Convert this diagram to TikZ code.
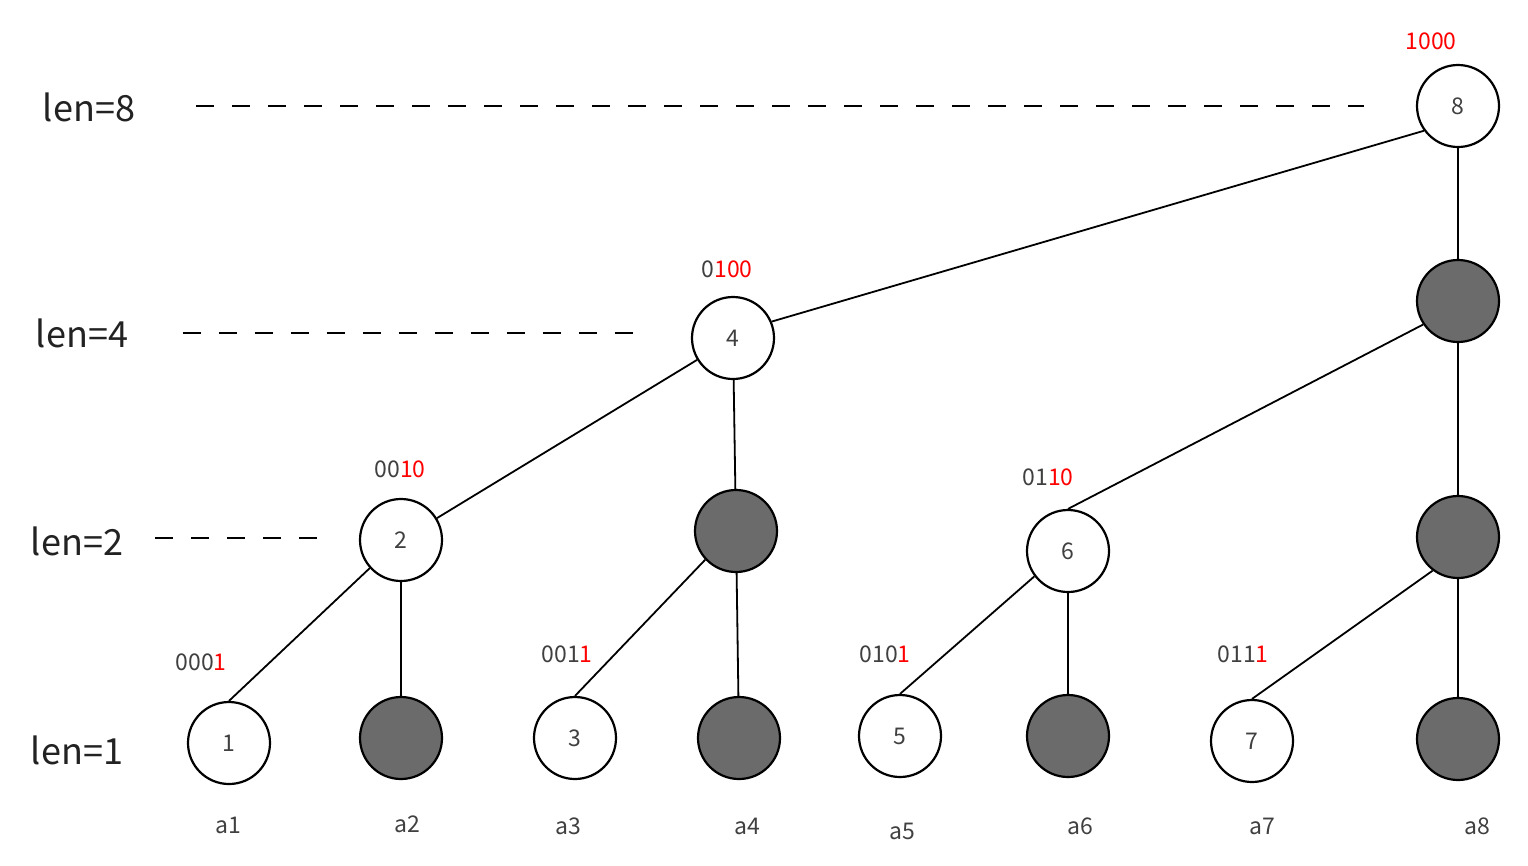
\documentclass[tikz,border=0pt]{standalone}
\usepackage{fontspec}
\setmainfont{Noto Sans CJK SC}
\definecolor{nodegray}{HTML}{6B6B6B}
\definecolor{txtgray}{HTML}{404040}
\definecolor{lenblack}{HTML}{222222}
\definecolor{bitred}{HTML}{FF0000}
\newcommand{\rd}[1]{\textcolor{bitred}{#1}}
\tikzset{
  wnode/.style={circle, draw=black, line width=2.2pt, fill=white, minimum size=82pt, inner sep=0pt, text=txtgray, font=\fontsize{23}{23}\selectfont},
  gnode/.style={wnode, fill=nodegray},
  edge/.style={line width=1.8pt, black},
  lenlabel/.style={text=lenblack, font=\fontsize{36}{36}\selectfont, inner sep=0pt},
  bits/.style={text=txtgray, font=\fontsize{23}{23}\selectfont, inner sep=0pt},
  alabel/.style={text=txtgray, font=\fontsize{23}{23}\selectfont, inner sep=0pt},
  dashline/.style={line width=1.7pt, dash pattern=on 18pt off 18pt}
}
\begin{document}
\begin{tikzpicture}[x=1pt,y=-1pt]
\useasboundingbox (0,0) rectangle (1528,865);
% nodes
\node[wnode] (n8) at (1458,106) {8};
\node[gnode] (g8a) at (1458,301) {};
\node[wnode] (n4) at (733,338) {4};
\node[wnode] (n2) at (401,540) {2};
\node[gnode] (g4) at (736,531) {};
\node[wnode] (n6) at (1068,551) {6};
\node[gnode] (g8b) at (1458,537) {};
\node[wnode] (n1) at (229,743) {1};
\node[gnode] (g2) at (401,738) {};
\node[wnode] (n3) at (575,738) {3};
\node[gnode] (g4b) at (739,738) {};
\node[wnode] (n5) at (900,736) {5};
\node[gnode] (g6) at (1068,736) {};
\node[wnode] (n7) at (1252,741) {7};
\node[gnode] (g8c) at (1458,739) {};
% edges
\draw[edge] (n8.216) -- (n4.23);
\draw[edge] (n8) -- (g8a);
\draw[edge] (g8a.214) -- (n6.north);
\draw[edge] (g8a) -- (g8b);
\draw[edge] (n4) -- (n2);
\draw[edge] (n4) -- (g4);
\draw[edge] (n2.222) -- (n1.north);
\draw[edge] (n2) -- (g2);
\draw[edge] (g4.223) -- (n3.north);
\draw[edge] (g4) -- (g4b);
\draw[edge] (n6.217) -- (n5.north);
\draw[edge] (n6) -- (g6);
\draw[edge] (g8b.233) -- (n7.north);
\draw[edge] (g8b) -- (g8c);
% len labels
\node[lenlabel] (l8) at (89,107) {len=8};
\node[lenlabel] (l4) at (82,333) {len=4};
\node[lenlabel] (l2) at (77,541) {len=2};
\node[lenlabel] (l1) at (77,750) {len=1};
% dashed lines
\coordinate (d8s) at (196,106); \coordinate (d8e) at (1364,106);
\coordinate (d4s) at (183,333); \coordinate (d4e) at (640,333);
\coordinate (d2s) at (155,538); \coordinate (d2e) at (320,538);
\draw[dashline] (d8s) -- (d8e);
\draw[dashline] (d4s) -- (d4e);
\draw[dashline] (d2s) -- (d2e);
% bit labels
\node[bits] (b8) at (1431,41) {\rd{1000}};
\node[bits] (b4) at (727,269) {0\rd{100}};
\node[bits] (b2) at (400,469) {00\rd{10}};
\node[bits] (b6) at (1048,477) {01\rd{10}};
\node[bits] (b1) at (201,662) {000\rd{1}};
\node[bits] (b3) at (567,654) {001\rd{1}};
\node[bits] (b5) at (885,654) {010\rd{1}};
\node[bits] (b7) at (1243,654) {011\rd{1}};
% bottom labels
\node[alabel] (a1) at (228,825) {a1};
\node[alabel] (a2) at (407,824) {a2};
\node[alabel] (a3) at (568,826) {a3};
\node[alabel] (a4) at (747,826) {a4};
\node[alabel] (a5) at (902,831) {a5};
\node[alabel] (a6) at (1080,826) {a6};
\node[alabel] (a7) at (1262,826) {a7};
\node[alabel] (a8) at (1477,826) {a8};
\end{tikzpicture}
\end{document}
